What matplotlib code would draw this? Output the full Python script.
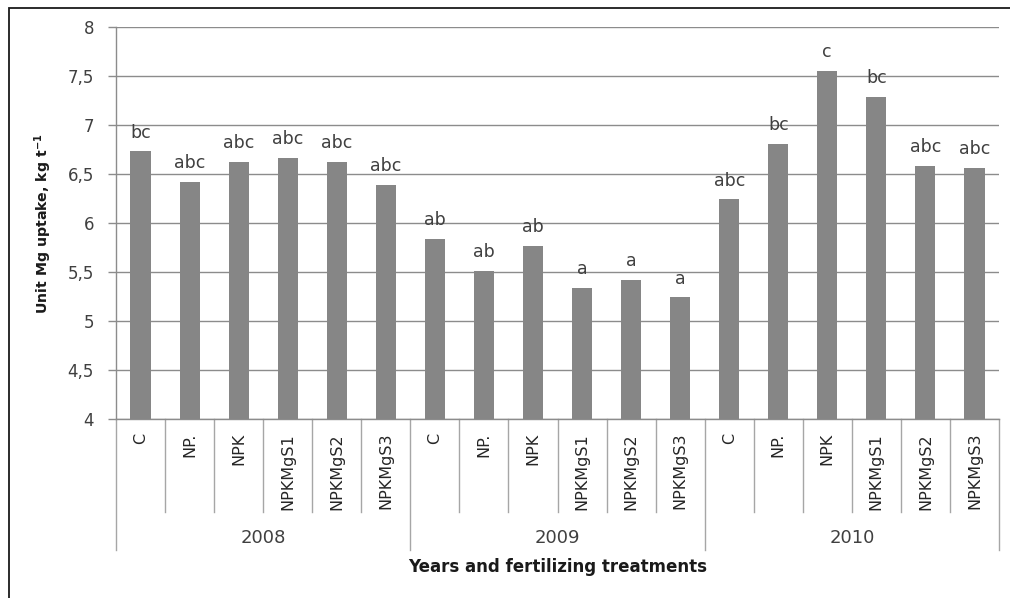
import matplotlib
matplotlib.use("Agg")
import matplotlib.pyplot as plt
import matplotlib.transforms as mtransforms
from matplotlib.patches import Rectangle

# Data
years = ["2008", "2009", "2010"]
treatments = ["C", "NP.", "NPK", "NPKMgS1", "NPKMgS2", "NPKMgS3"]
values_2008 = [6.73, 6.42, 6.62, 6.66, 6.62, 6.39]
values_2009 = [5.84, 5.51, 5.77, 5.34, 5.42, 5.24]
values_2010 = [6.24, 6.81, 7.55, 7.29, 6.58, 6.56]
letters_2008 = ["bc", "abc", "abc", "abc", "abc", "abc"]
letters_2009 = ["ab", "ab", "ab", "a", "a", "a"]
letters_2010 = ["abc", "bc", "c", "bc", "abc", "abc"]
y_ticks = [4, 4.5, 5, 5.5, 6, 6.5, 7, 7.5, 8]
y_tick_labels = ["4", "4,5", "5", "5,5", "6", "6,5", "7", "7,5", "8"]

values = values_2008 + values_2009 + values_2010
letters = letters_2008 + letters_2009 + letters_2010
cat_labels = treatments * len(years)
n_per = len(treatments)
n = len(values)

bar_color = "#868686"
grid_color = "#8c8c8c"
axis_color = "#8c8c8c"
text_color = "#404040"

fig = plt.figure(figsize=(10.10, 5.98), dpi=100)
ax = fig.add_axes([116 / 1010, 1 - 419 / 598, (999 - 116) / 1010, (419 - 27) / 598])

x = list(range(n))
bars = ax.bar(x, [v - 4 for v in values], bottom=4, width=0.41, color=bar_color, zorder=3)

ax.set_xlim(-0.5, n - 0.5)
ax.set_ylim(4, 8)
ax.set_yticks(y_ticks, y_tick_labels)
ax.yaxis.grid(True, color=grid_color, linewidth=1.0, zorder=0)
ax.set_axisbelow(True)

for side in ("top", "right"):
    ax.spines[side].set_visible(False)
for side in ("left", "bottom"):
    ax.spines[side].set_color(axis_color)
    ax.spines[side].set_linewidth(1.0)

ax.tick_params(axis="y", direction="out", length=5.8, width=1.0, color=axis_color,
               pad=10, labelsize=12, labelcolor=text_color)
ax.set_xticks(x, cat_labels, rotation=90)
ax.tick_params(axis="x", length=0, pad=10, labelsize=11.5, labelcolor="#262626")

# Significance letters above bars
for xi, v, lab in zip(x, values, letters):
    ax.annotate(lab, xy=(xi, v), xytext=(0, 10), textcoords="offset points",
                ha="center", va="baseline", fontsize=12.5, color=text_color)

# Multi-level category axis separators
trans = mtransforms.blended_transform_factory(ax.transData, ax.transAxes)
short_y = (419 - 512) / 392
long_y = (419 - 550) / 392
for b in range(n + 1):
    xb = b - 0.5
    y_end = long_y if b % n_per == 0 else short_y
    ax.plot([xb, xb], [0, y_end], transform=trans, color="#a6a6a6",
            linewidth=1.0, clip_on=False)

group_y = (419 - 538) / 392
for gi, yr in enumerate(years):
    ax.text(gi * n_per + (n_per - 1) / 2, group_y, yr, transform=trans,
            ha="center", va="center", fontsize=13, color=text_color)

fig.text(557.5 / 1010, 1 - 567 / 598, "Years and fertilizing treatments",
         ha="center", va="center", fontsize=12, fontweight="bold", color="#1a1a1a")
fig.text(43 / 1010, 1 - 224 / 598, "Unit Mg uptake, kg t$^{\\mathbf{-1}}$",
         ha="center", va="center", rotation=90, fontsize=10.2, fontweight="bold",
         color="#1a1a1a")

# Outer chart frame
fig.patches.append(Rectangle((9 / 1010, -0.05), 1.2, 1 - 7.5 / 598 + 0.05,
                             transform=fig.transFigure, fill=False,
                             edgecolor="#1a1a1a", linewidth=1.3))

fig.savefig("out.png", dpi=100)
